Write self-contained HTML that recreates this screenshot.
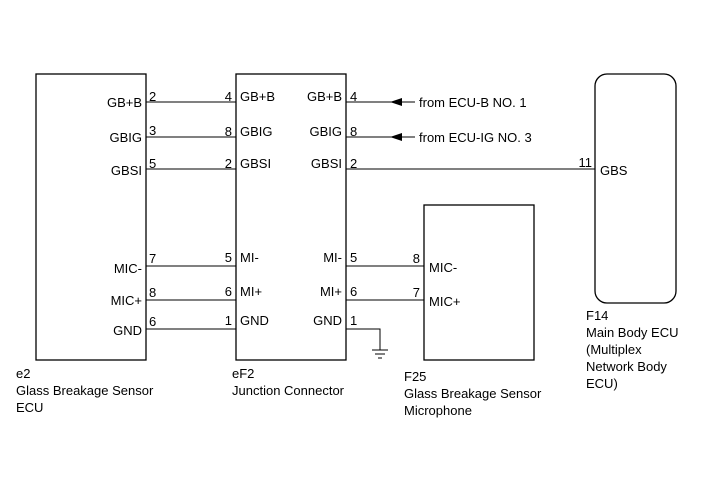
<!DOCTYPE html>
<html><head><style>
body{margin:0;background:#fff}
svg{display:block}
text{font-family:"Liberation Sans",sans-serif;font-size:13px;fill:#000}
</style></head><body>
<svg width="713" height="481" viewBox="0 0 713 481">
<g fill="none" stroke="#000" stroke-width="1.3">
<rect x="36" y="74" width="110" height="286"/>
<rect x="236" y="74" width="110" height="286"/>
<rect x="424" y="205" width="110" height="155"/>
<rect x="595" y="74" width="81" height="229" rx="12"/>
</g>
<g stroke="#000" stroke-width="1">
<line x1="146" y1="102" x2="236" y2="102"/>
<line x1="146" y1="137" x2="236" y2="137"/>
<line x1="146" y1="169" x2="236" y2="169"/>
<line x1="146" y1="266" x2="236" y2="266"/>
<line x1="146" y1="300" x2="236" y2="300"/>
<line x1="146" y1="329" x2="236" y2="329"/>
<line x1="346" y1="102" x2="415" y2="102"/>
<line x1="346" y1="137" x2="415" y2="137"/>
<line x1="346" y1="169" x2="595" y2="169"/>
<line x1="346" y1="266" x2="424" y2="266"/>
<line x1="346" y1="300" x2="424" y2="300"/>
<polyline points="346,329 380,329 380,350" fill="none"/>
<line x1="372" y1="350" x2="388" y2="350"/>
<line x1="375" y1="354" x2="385" y2="354"/>
<line x1="378" y1="358" x2="382" y2="358"/>
</g>
<polygon points="390,102 402,98 402,106" fill="#000"/>
<polygon points="390,137 402,133 402,141" fill="#000"/>
<g text-anchor="end">
<text x="142" y="107">GB+B</text>
<text x="142" y="142">GBIG</text>
<text x="142" y="175">GBSI</text>
<text x="142" y="273">MIC-</text>
<text x="142" y="305">MIC+</text>
<text x="142" y="335">GND</text>
<text x="232" y="101">4</text>
<text x="232" y="136">8</text>
<text x="232" y="168">2</text>
<text x="232" y="262">5</text>
<text x="232" y="296">6</text>
<text x="232" y="325">1</text>
<text x="342" y="101">GB+B</text>
<text x="342" y="136">GBIG</text>
<text x="342" y="168">GBSI</text>
<text x="342" y="262">MI-</text>
<text x="342" y="296">MI+</text>
<text x="342" y="325">GND</text>
<text x="420" y="263">8</text>
<text x="420" y="297">7</text>
<text x="592" y="167">11</text>
</g>
<text x="149" y="101">2</text>
<text x="149" y="135">3</text>
<text x="149" y="168">5</text>
<text x="149" y="263">7</text>
<text x="149" y="297">8</text>
<text x="149" y="326">6</text>
<text x="240" y="101">GB+B</text>
<text x="240" y="136">GBIG</text>
<text x="240" y="168">GBSI</text>
<text x="240" y="262">MI-</text>
<text x="240" y="296">MI+</text>
<text x="240" y="325">GND</text>
<text x="350" y="101">4</text>
<text x="350" y="136">8</text>
<text x="350" y="168">2</text>
<text x="350" y="262">5</text>
<text x="350" y="296">6</text>
<text x="350" y="325">1</text>
<text x="419" y="107">from ECU-B NO. 1</text>
<text x="419" y="142">from ECU-IG NO. 3</text>
<text x="600" y="175">GBS</text>
<text x="429" y="272">MIC-</text>
<text x="429" y="306">MIC+</text>
<text x="16" y="378">e2</text>
<text x="16" y="395">Glass Breakage Sensor</text>
<text x="16" y="412">ECU</text>
<text x="232" y="378">eF2</text>
<text x="232" y="395">Junction Connector</text>
<text x="404" y="381">F25</text>
<text x="404" y="398">Glass Breakage Sensor</text>
<text x="404" y="415">Microphone</text>
<text x="586" y="320">F14</text>
<text x="586" y="337">Main Body ECU</text>
<text x="586" y="354">(Multiplex</text>
<text x="586" y="371">Network Body</text>
<text x="586" y="388">ECU)</text>
</svg>
</body></html>
